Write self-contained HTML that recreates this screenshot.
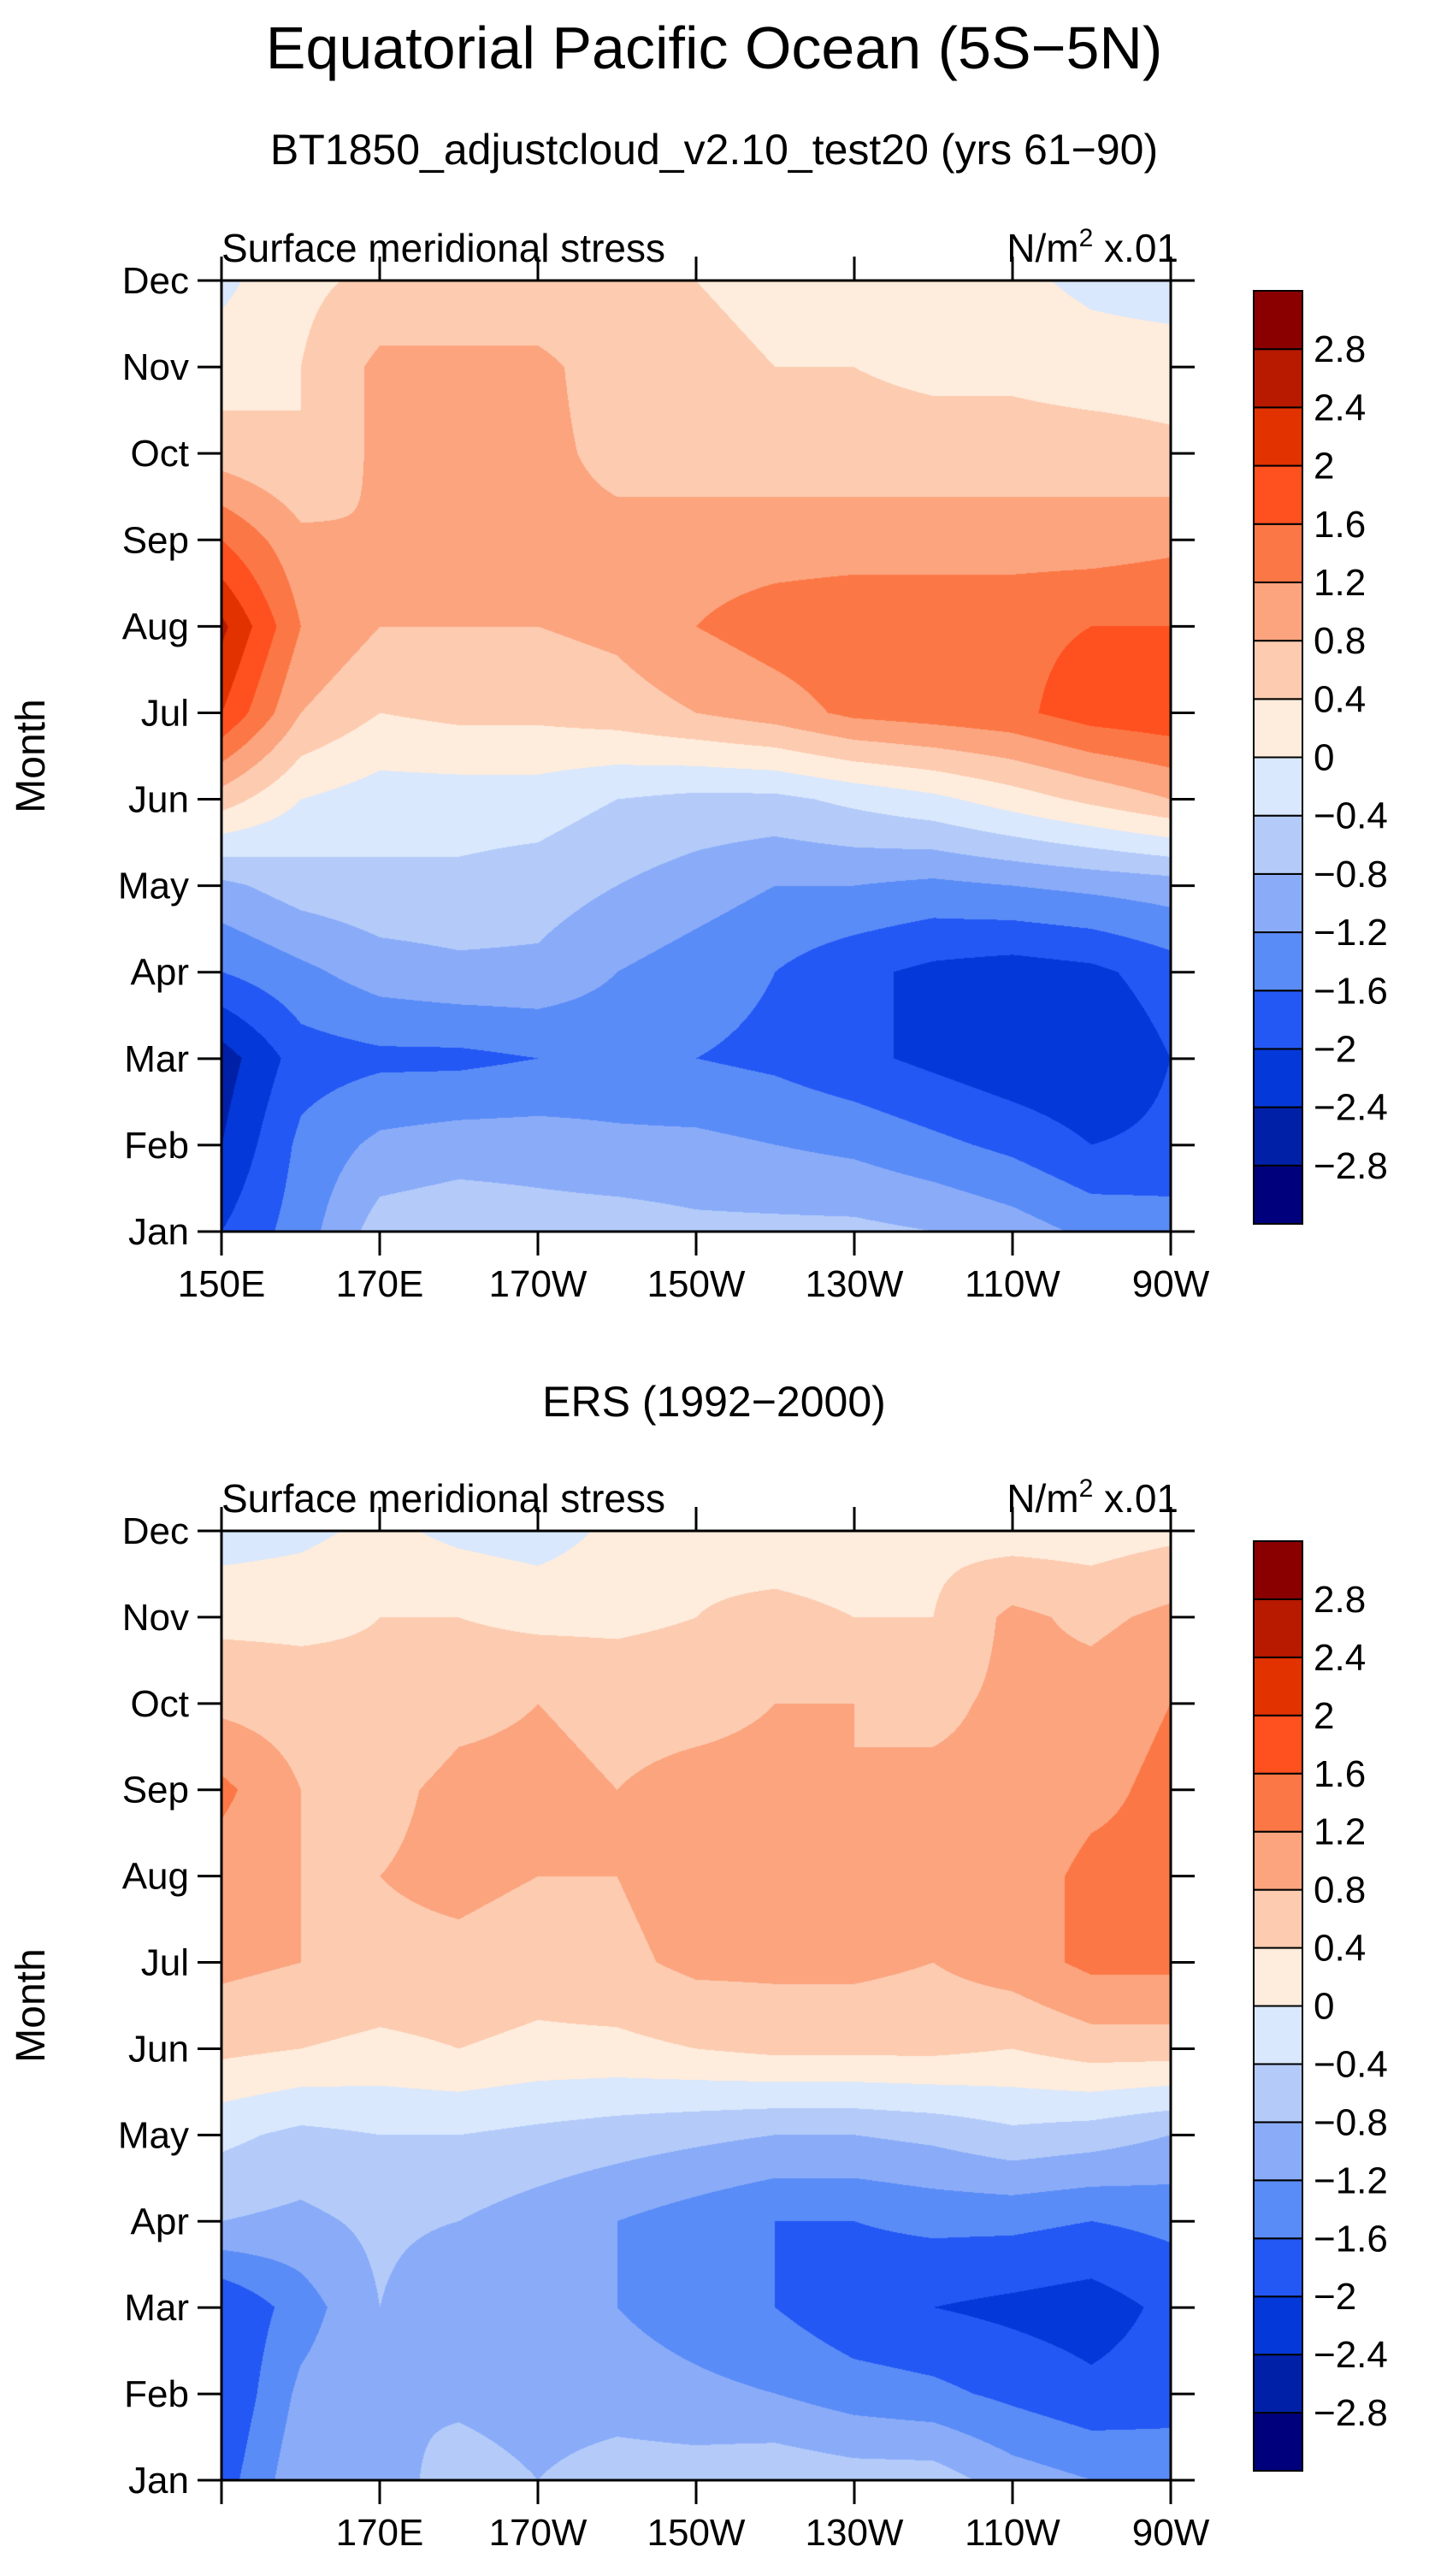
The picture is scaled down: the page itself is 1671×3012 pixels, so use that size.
<!DOCTYPE html>
<html><head><meta charset="utf-8">
<style>
body{margin:0;background:#fff;}
#wrap{position:relative;width:1671px;height:3012px;overflow:hidden;font-family:"Liberation Sans",sans-serif;color:#000;}
svg text{font-family:"Liberation Sans",sans-serif;}
canvas{position:absolute;}
</style></head><body>
<div id="wrap">
<canvas id="c1" width="1110" height="1112" style="left:259px;top:328px"></canvas>
<canvas id="c2" width="1110" height="1110" style="left:259px;top:1790px"></canvas>
<svg id="s" width="1671" height="3012" style="position:absolute;left:0;top:0"></svg>
</div>
<script>
const months=["Jan","Feb","Mar","Apr","May","Jun","Jul","Aug","Sep","Oct","Nov","Dec"];
const lonLabels=["150E","170E","170W","150W","130W","110W","90W"];
const levels=[-2.8,-2.4,-2,-1.6,-1.2,-0.8,-0.4,0,0.4,0.8,1.2,1.6,2,2.4,2.8];
const levelLabels=["−2.8","−2.4","−2","−1.6","−1.2","−0.8","−0.4","0","0.4","0.8","1.2","1.6","2","2.4","2.8"];
const colors=["#00007c","#0020a8","#0538d8","#2458f5","#5a8cf7","#8aacf8","#b4cbfa","#d9e8fc","#feecdc","#fccbb0","#fba47e","#fb7846","#ff5020","#e13200","#b81a00","#8a0000"];
const modelData=[
[-2.0,-1.4,-0.6,-0.5,-0.6,-0.6,-0.7,-0.7,-0.7,-0.8,-1.0,-1.3,-1.4],
[-2.4,-1.5,-1.1,-1.0,-1.0,-1.1,-1.1,-1.2,-1.3,-1.5,-1.7,-2.0,-1.9],
[-2.6,-1.8,-1.7,-1.7,-1.6,-1.5,-1.6,-1.7,-1.9,-2.1,-2.3,-2.4,-2.0],
[-1.6,-1.3,-1.0,-0.9,-0.9,-1.2,-1.4,-1.6,-1.9,-2.1,-2.2,-2.1,-1.8],
[-0.9,-0.6,-0.5,-0.5,-0.6,-0.8,-1.0,-1.2,-1.2,-1.3,-1.2,-1.1,-1.0],
[0.6,0.0,-0.2,-0.2,-0.2,-0.4,-0.5,-0.5,-0.3,-0.1,0.2,0.5,0.8],
[2.0,0.8,0.4,0.5,0.5,0.6,0.8,1.0,1.3,1.4,1.5,1.8,1.9],
[2.5,1.2,0.8,0.8,0.8,0.9,1.2,1.4,1.5,1.5,1.5,1.6,1.6],
[1.6,0.9,0.8,0.9,0.9,0.9,1.0,1.0,1.0,1.0,1.0,1.0,1.1],
[0.6,0.4,0.9,0.9,0.9,0.7,0.6,0.6,0.6,0.6,0.6,0.6,0.5],
[0.2,0.4,0.9,0.9,0.9,0.6,0.5,0.4,0.4,0.3,0.3,0.2,0.2],
[-0.1,0.3,0.5,0.5,0.5,0.5,0.4,0.3,0.2,0.3,0.1,-0.1,-0.2]];
const ersData=[
[-1.8,-0.9,-1.0,-0.6,-0.8,-0.6,-0.6,-0.5,-0.6,-0.6,-1.0,-1.2,-1.3],
[-2.0,-1.1,-0.8,-0.9,-1.0,-1.0,-1.1,-1.2,-1.4,-1.5,-1.7,-1.9,-1.8],
[-2.0,-1.4,-0.8,-1.2,-1.0,-1.2,-1.4,-1.6,-1.9,-2.0,-2.1,-2.2,-1.9],
[-0.8,-0.9,-0.7,-0.8,-1.0,-1.2,-1.4,-1.6,-1.6,-1.5,-1.5,-1.6,-1.5],
[-0.3,-0.5,-0.4,-0.4,-0.5,-0.6,-0.7,-0.8,-0.8,-0.7,-0.5,-0.6,-0.8],
[0.5,0.4,0.3,0.4,0.3,0.3,0.4,0.5,0.5,0.5,0.4,0.6,0.6],
[0.9,0.8,0.7,0.7,0.6,0.7,0.9,0.9,0.9,0.8,1.0,1.3,1.3],
[1.0,0.8,0.8,0.9,0.8,0.8,1.0,0.9,0.9,0.8,1.0,1.3,1.3],
[1.3,0.8,0.7,0.9,0.9,0.8,0.9,0.9,0.8,0.9,0.9,1.1,1.3],
[0.7,0.6,0.5,0.7,0.8,0.7,0.7,0.8,0.8,0.7,0.9,1.0,1.2],
[0.3,0.3,0.4,0.4,0.3,0.3,0.4,0.5,0.4,0.4,0.9,0.7,0.9],
[-0.2,-0.1,0.1,-0.1,-0.2,0.1,0.3,0.2,0.2,0.3,0.2,0.2,0.3]];

function hex(c){return [parseInt(c.substr(1,2),16),parseInt(c.substr(3,2),16),parseInt(c.substr(5,2),16)];}
const rgb=colors.map(hex);
function colorIdx(v){let i=0;while(i<levels.length&&v>=levels[i])i++;return i;}
function drawField(id,data){
  const cv=document.getElementById(id),ctx=cv.getContext('2d');
  const W=cv.width,H=cv.height,img=ctx.createImageData(W,H);
  const nr=data.length,nc=data[0].length;
  for(let py=0;py<H;py++){
    const fy=(1-py/(H-1))*(nr-1);let r0=Math.floor(fy);if(r0>=nr-1)r0=nr-2;const ty=fy-r0;
    for(let px=0;px<W;px++){
      const fx=px/(W-1)*(nc-1);let c0=Math.floor(fx);if(c0>=nc-1)c0=nc-2;const tx=fx-c0;
      const v=(data[r0][c0]*(1-tx)+data[r0][c0+1]*tx)*(1-ty)+(data[r0+1][c0]*(1-tx)+data[r0+1][c0+1]*tx)*ty;
      const c=rgb[colorIdx(v)],k=(py*W+px)*4;
      img.data[k]=c[0];img.data[k+1]=c[1];img.data[k+2]=c[2];img.data[k+3]=255;
    }
  }
  ctx.putImageData(img,0,0);
}
drawField('c1',modelData);drawField('c2',ersData);

const s=document.getElementById('s');const NS='http://www.w3.org/2000/svg';
function el(t,a,txt){const e=document.createElementNS(NS,t);for(const k in a)e.setAttribute(k,a[k]);if(txt!==undefined)e.textContent=txt;s.appendChild(e);return e;}
const X0=259,X1=1369;
function xs(i){return X0+(X1-X0)*i/6;}
let t;
t=el('text',{x:835,y:80,'font-size':70,'text-anchor':'middle'},'Equatorial Pacific Ocean (5S−5N)');

t=el('text',{x:835,y:192,'font-size':50,'text-anchor':'middle'},'BT1850_adjustcloud_v2.10_test20 (yrs 61−90)');

t=el('text',{x:835,y:1656,'font-size':50,'text-anchor':'middle'},'ERS (1992−2000)');


function panel(Y0,Y1,showFirst,tag){
  t=el('text',{x:X0,y:Y0-22,'font-size':46},'Surface meridional stress');
  
  t=el('text',{x:1378,y:Y0-22,'font-size':46,'text-anchor':'end'});
  
  t.innerHTML='N/m<tspan dy="-18" font-size="30">2</tspan><tspan dy="18"> x.01</tspan>';
  t=el('rect',{x:X0,y:Y0,width:X1-X0,height:Y1-Y0,fill:'none',stroke:'#000','stroke-width':3});
  
  for(let m=0;m<12;m++){
    const y=Y1-(Y1-Y0)*m/11;
    el('line',{x1:X0-28,x2:X0,y1:y,y2:y,stroke:'#000','stroke-width':3});
    el('line',{x1:X1,x2:X1+28,y1:y,y2:y,stroke:'#000','stroke-width':3});
    t=el('text',{x:X0-38,y:y+15,'font-size':44,'text-anchor':'end'},months[m]);
    
  }
  for(let i=0;i<7;i++){
    const x=xs(i);
    el('line',{x1:x,x2:x,y1:Y1,y2:Y1+28,stroke:'#000','stroke-width':3});
    el('line',{x1:x,x2:x,y1:Y0-28,y2:Y0,stroke:'#000','stroke-width':3});
    if(i>0||showFirst){t=el('text',{x:x,y:Y1+76,'font-size':44,'text-anchor':'middle'},lonLabels[i]);
    }
  }
  const cy=(Y0+Y1)/2;
  t=el('text',{x:52,y:cy,'font-size':48,'text-anchor':'middle',transform:'rotate(-90 52 '+cy+')'},'Month');
  
}
panel(328,1440,true,'model');panel(1790,2900,false,'ers');

function colorbar(T,B,tag){
  const n=colors.length,h=(B-T)/n;
  for(let i=0;i<n;i++){
    t=el('rect',{x:1466,y:B-(i+1)*h,width:57,height:h,fill:colors[i],stroke:'#000','stroke-width':2});
    
  }
  for(let i=0;i<levels.length;i++){
    const y=B-(i+1)*h;
    t=el('text',{x:1536,y:y+15,'font-size':44},levelLabels[i]);
    
  }
}
colorbar(340,1431,'model');colorbar(1802,2889,'ers');
</script>
</body></html>
